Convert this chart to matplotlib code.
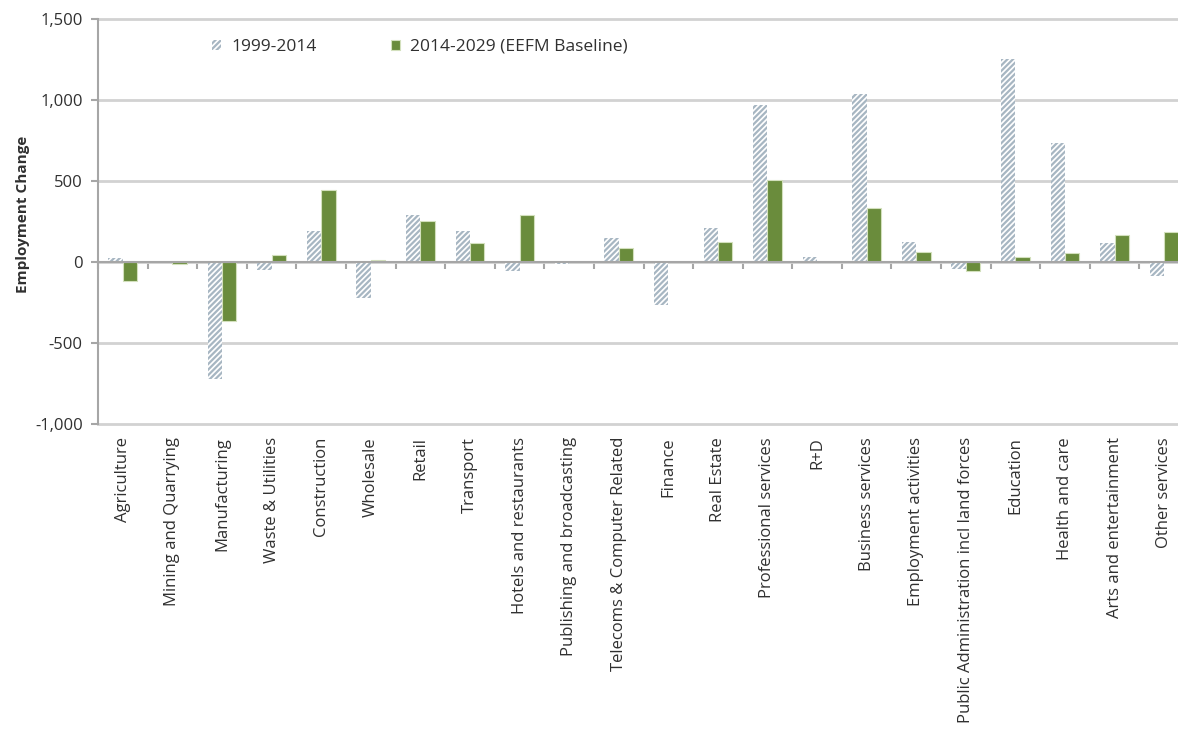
import matplotlib
matplotlib.use('Agg')
import matplotlib.pyplot as plt
import numpy as np
from matplotlib.ticker import FuncFormatter

plt.rcParams['font.family'] = ['Open Sans', 'DejaVu Sans']
plt.rcParams['hatch.linewidth'] = 1.6

sectors = [
    'Agriculture', 'Mining and Quarrying', 'Manufacturing', 'Waste & Utilities',
    'Construction', 'Wholesale', 'Retail', 'Transport', 'Hotels and restaurants',
    'Publishing and broadcasting', 'Telecoms & Computer Related', 'Finance',
    'Real Estate', 'Professional services', 'R+D', 'Business services',
    'Employment activities', 'Public Administration incl land forces',
    'Education', 'Health and care', 'Arts and entertainment', 'Other services',
]
change_1999_2014 = [25, -5, -720, -50, 190, -220, 292, 189, -55, -10, 147, -263,
                    210, 967, 33, 1037, 126, -45, 1254, 732, 116, -85]
change_2014_2029 = [-115, -12, -365, 45, 446, 14, 251, 116, 292, 2, 85, -3,
                    126, 505, 2, 332, 64, -56, 33, 54, 169, 187]

GREEN = '#6a8c3c'
HATCH = '#a7b6c2'
GRID = '#d2d2d2'
AXIS = '#a6a6a6'
TEXT = '#303030'

fig = plt.figure(figsize=(11.78, 7.35), dpi=100)
ax = fig.add_axes([98 / 1178, 1 - 424 / 735, 1091 / 1178, 405 / 735])

x = np.arange(len(sectors))
w = 0.29
ax.bar(x - w / 2, change_1999_2014, w, facecolor='white', edgecolor=HATCH,
       hatch='//////', linewidth=0, label='1999-2014', zorder=2)
ax.bar(x + w / 2, change_2014_2029, w, color=GREEN, edgecolor='#d3e0bd',
       linewidth=0.8, label='2014-2029 (EEFM Baseline)', zorder=2)

ax.set_xlim(-0.5, len(sectors) - 0.5)
ax.set_ylim(-1000, 1500)
ax.set_yticks(range(-1000, 1501, 500))
ax.yaxis.set_major_formatter(FuncFormatter(lambda v, p: f'{v:,.0f}'))
ax.yaxis.grid(True, color=GRID, linewidth=2)
ax.set_axisbelow(True)
for gl in ax.get_ygridlines():
    gl.set_clip_on(False)

for s in ['top', 'right']:
    ax.spines[s].set_visible(False)
ax.spines['bottom'].set_position(('data', 0))
ax.spines['bottom'].set_color(AXIS)
ax.spines['bottom'].set_linewidth(1.5)
ax.spines['bottom'].set_zorder(3)
ax.spines['left'].set_color(AXIS)
ax.spines['left'].set_linewidth(1.5)

# category labels sit below the plot, boundary ticks on the zero line
ax.set_xticks(x)
ax.set_xticklabels(sectors, rotation=90, va='top', ha='center')
ax.set_xticks(np.arange(-0.5, len(sectors), 1), minor=True)
ax.tick_params(axis='x', which='major', length=0, pad=126, labelsize=12, labelcolor=TEXT)
ax.tick_params(axis='x', which='minor', length=5, width=1.5, color=AXIS, direction='out')
ax.tick_params(axis='y', length=5, width=1.5, color=AXIS, labelsize=12,
               labelcolor=TEXT, pad=6)

ax.set_ylabel('Employment Change', fontweight='bold', fontsize=11, color=TEXT)
ax.yaxis.set_label_coords(-0.062, 0.518)

ax.legend(ncol=2, loc='center left', bbox_to_anchor=(0.1045, 0.931),
          frameon=False, fontsize=12.5, handlelength=0.5, handleheight=0.5,
          handletextpad=0.6, columnspacing=4.3, borderpad=0, borderaxespad=0,
          labelcolor=TEXT)

fig.savefig('out.png', dpi=100, facecolor='white')
